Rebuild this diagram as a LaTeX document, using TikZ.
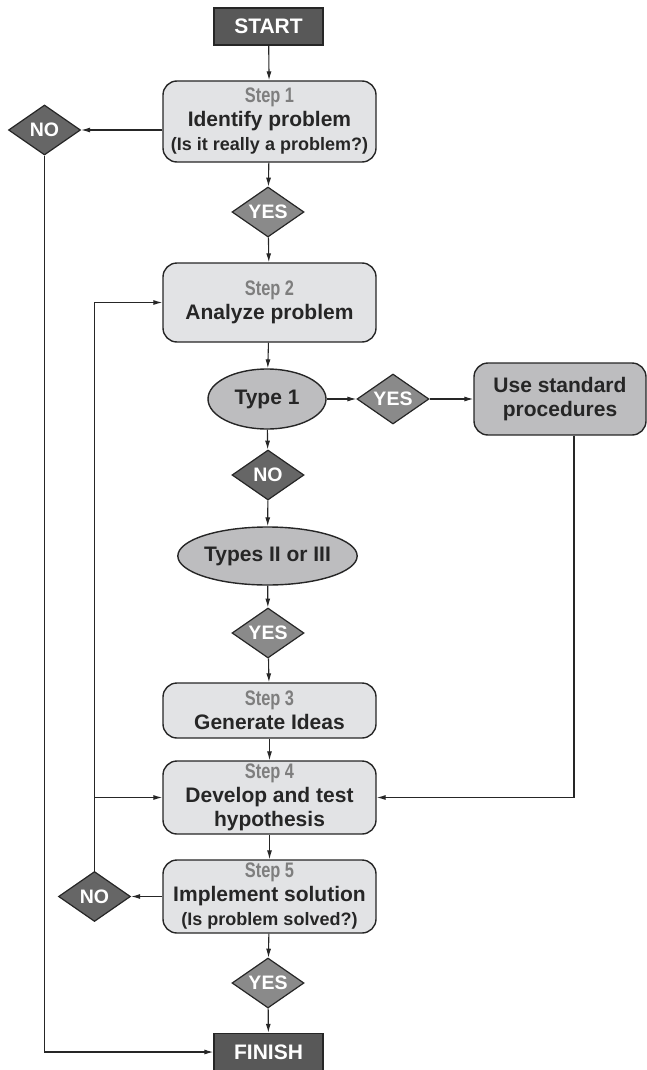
\documentclass[tikz,border=0pt]{standalone}
\usepackage{fontspec}
\setmainfont{Liberation Sans}
\usepackage{tikz}
\usetikzlibrary{shapes.geometric,arrows.meta,positioning,calc}
\definecolor{termgray}{HTML}{585858}
\definecolor{nogray}{HTML}{666666}
\definecolor{yesgray}{HTML}{8A8A8A}
\definecolor{stepgray}{HTML}{E2E3E5}
\definecolor{typegray}{HTML}{BDBDBF}
\definecolor{lblgray}{HTML}{7E7E7E}
\newcommand{\steplbl}[1]{{\color{lblgray}\fontsize{21}{23}\selectfont\scalebox{0.78}[1]{#1}}\\}
\newcommand{\subtxt}[1]{\\{\fontsize{18}{23}\selectfont #1}}

\begin{document}
\begin{tikzpicture}
	[ x=1pt, y=-1pt,
	  every node/.style={ font=\bfseries\fontsize{21}{24}\selectfont, text=black!85, align=center },
	  term/.style={ draw=black!85, line width=1.4pt, fill=termgray, text=white, minimum width=109pt, minimum height=37pt, inner sep=0pt },
	  stepbox/.style={ draw=black!85, line width=1.4pt, fill=stepgray, rounded corners=14pt, minimum width=213pt, inner sep=0pt },
	  typebox/.style={ ellipse, draw=black!85, line width=1.4pt, fill=typegray, inner sep=0pt },
	  yesno/.style={ diamond, draw=black!85, line width=1.2pt, text=white, minimum width=72pt, minimum height=50pt, inner sep=0pt, aspect=1.44, font=\bfseries\fontsize{19.5}{20}\selectfont },
	  yes/.style={ yesno, fill=yesgray },
	  no/.style={ yesno, fill=nogray },
	  flow/.style={ line width=1.1pt, draw=black!85, -{Latex[length=9pt,width=5pt]} },
	  link/.style={ line width=1.1pt, draw=black!85 }
	]
	\useasboundingbox (0,0) rectangle (647,1070);
	\node[term] (start) at (268.5,26.5) {START};
	\node[stepbox, minimum height=81pt] (step1) at (269.5,121.5) {\steplbl{Step 1}Identify problem\subtxt{(Is it really a problem?)}};
	\node[no] (no1) at (44.5,130) {NO};
	\node[yes] (yes1) at (268,212) {YES};
	\node[stepbox, minimum height=79pt] (step2) at (269.5,302.5) {\steplbl{Step 2}Analyze problem};
	\node[typebox, minimum width=118pt, minimum height=60pt] (type1) at (267,399) {Type 1};
	\node[yes] (yes2) at (393,399) {YES};
	\node[stepbox, fill=typegray, minimum width=172pt, minimum height=72pt] (std) at (560,399) {Use standard\\procedures};
	\node[no] (no3) at (268,475) {NO};
	\node[typebox, minimum width=163pt, minimum height=58pt] (types23) at (267.5,556) {Types II or III};
	\node[yes] (yes4) at (268,633) {YES};
	\node[stepbox, minimum height=55pt] (step3) at (269.5,710.5) {\steplbl{Step 3}Generate Ideas};
	\node[stepbox, minimum height=73pt] (step4) at (269.5,797.5) {\steplbl{Step 4}Develop and test\\hypothesis};
	\node[stepbox, minimum height=73pt] (step5) at (269.5,896.5) {\steplbl{Step 5}Implement solution\subtxt{(Is problem solved?)}};
	\node[no] (no5) at (94.5,896.5) {NO};
	\node[yes] (yes5) at (268,983) {YES};
	\node[term] (finish) at (268.5,1052) {FINISH};
	\coordinate (stdout) at ([xshift=14pt]std.south);
	\coordinate (branch) at (no5.north |- step4.west);

	\draw[flow] (start) -- (step1);
	\draw[flow] (step1.west |- no1.east) -- (no1);
	\draw[flow] (step1) -- (yes1);
	\draw[flow] (yes1) -- (step2);
	\draw[flow] (no1.south) |- (finish.west);
	\draw[flow] (step2) -- (type1);
	\draw[flow] (type1) -- (yes2);
	\draw[flow] (yes2) -- (std);
	\draw[flow] (type1) -- (no3);
	\draw[flow] (no3) -- (types23);
	\draw[flow] (types23) -- (yes4);
	\draw[flow] (yes4) -- (step3);
	\draw[flow] (step3) -- (step4);
	\draw[flow] (stdout) |- (step4.east);
	\draw[flow] (step4) -- (step5);
	\draw[flow] (step5) -- (no5);
	\draw[flow] (no5.north) |- (step2.west);
	\draw[flow] (branch) -- (step4.west);
	\draw[flow] (step5) -- (yes5);
	\draw[flow] (yes5) -- (finish);
\end{tikzpicture}
\end{document}
